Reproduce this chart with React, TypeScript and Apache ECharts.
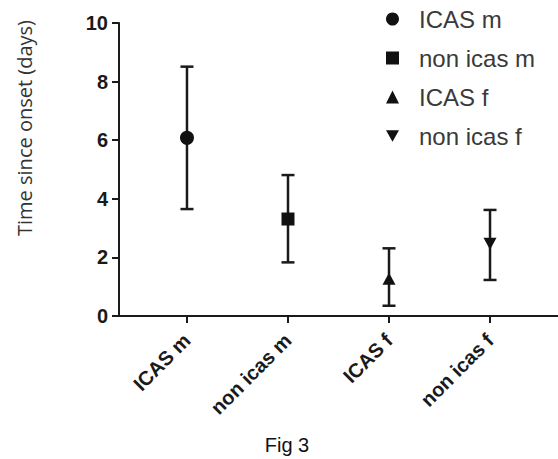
import React, { useEffect, useRef } from "react";
import * as echarts from "echarts";

const categories = ["ICAS m", "non icas m", "ICAS f", "non icas f"];
const means = [6.08, 3.31, 1.27, 2.47];
const lower = [3.65, 1.83, 0.35, 1.23];
const upper = [8.51, 4.81, 2.31, 3.62];
const symbols = ["circle", "rect", "triangle", "path://M0,0L10,0L5,9Z"];
const symbolSizes: any[] = [14, 13, [13, 12], [13, 12]];
const yTicks = [0, 2, 4, 6, 8, 10];
const xPositions = [1, 2, 3, 4];

export default function App() {
  const ref = useRef<HTMLDivElement>(null);
  useEffect(() => {
    const chart = echarts.init(ref.current!, null, { renderer: "svg" });
    const axisColor = "#1a1a1a";
    const errData = xPositions.map((x, i) => [x, lower[i], upper[i]]);
    const scatterSeries = categories.map((name, i) => ({
      type: "scatter",
      name,
      data: [[xPositions[i], means[i]]],
      symbol: symbols[i],
      symbolSize: symbolSizes[i],
      itemStyle: { color: "#111", opacity: 1 },
      z: 5,
    }));
    chart.setOption({
      animation: false,
      grid: {
        left: 119,
        top: 23,
        right: 0,
        bottom: 143,
        containLabel: false,
        outerBoundsMode: "none",
      },
      legend: {
        orient: "vertical",
        left: 381,
        top: 2,
        itemWidth: 13,
        itemHeight: 13,
        itemGap: 15,
        data: categories,
        selectedMode: false,
        textStyle: {
          fontFamily: "Liberation Sans, Arial, sans-serif",
          fontSize: 24,
          color: "#3a3a3a",
          lineHeight: 24,
          padding: [0, 0, 0, 15],
        },
      },
      xAxis: {
        type: "value",
        min: 0.327,
        max: 4.673,
        splitLine: { show: false },
        axisLine: { show: true, lineStyle: { color: axisColor, width: 2 } },
        axisTick: {
          show: true,
          customValues: xPositions,
          length: 7,
          lineStyle: { color: axisColor, width: 2 },
        },
        axisLabel: {
          customValues: xPositions,
          rotate: 45,
          margin: 21,
          fontFamily: "Liberation Sans, Arial, sans-serif",
          fontWeight: "bold",
          fontSize: 20,
          color: "#1a1a1a",
          formatter: (v: number) => categories[Math.round(v) - 1] ?? "",
        },
      },
      yAxis: {
        type: "value",
        min: 0,
        max: 10,
        interval: 2,
        splitLine: { show: false },
        axisLine: { show: true, lineStyle: { color: axisColor, width: 2 } },
        axisTick: { show: true, length: 7, lineStyle: { color: axisColor, width: 2 } },
        axisLabel: {
          margin: 11,
          fontFamily: "Liberation Sans, Arial, sans-serif",
          fontWeight: "bold",
          fontSize: 20,
          color: "#1a1a1a",
          formatter: (v: number) => (yTicks.includes(v) ? String(v) : ""),
        },
      },
      graphic: [
        {
          type: "text",
          x: 24,
          y: 128,
          rotation: Math.PI / 2,
          style: {
            text: "Time since onset (days)",
            fontFamily: "Open Sans, sans-serif",
            fontSize: 20,
            fill: "#333",
            align: "center",
            verticalAlign: "middle",
          },
        },
        {
          type: "text",
          x: 287,
          y: 445,
          style: {
            text: "Fig 3",
            fontFamily: "Liberation Sans, Arial, sans-serif",
            fontSize: 20,
            fill: "#111",
            align: "center",
            verticalAlign: "middle",
          },
        },
      ],
      series: [
        {
          type: "custom",
          name: "error",
          data: errData,
          z: 3,
          renderItem: (params: any, api: any) => {
            const x = api.value(0);
            const pLo = api.coord([x, api.value(1)]);
            const pHi = api.coord([x, api.value(2)]);
            const half = 6.5;
            const style = { stroke: "#1a1a1a", lineWidth: 2.5 };
            return {
              type: "group",
              children: [
                { type: "line", shape: { x1: pHi[0], y1: pHi[1], x2: pLo[0], y2: pLo[1] }, style },
                { type: "line", shape: { x1: pHi[0] - half, y1: pHi[1], x2: pHi[0] + half, y2: pHi[1] }, style },
                { type: "line", shape: { x1: pLo[0] - half, y1: pLo[1], x2: pLo[0] + half, y2: pLo[1] }, style },
              ],
            };
          },
        },
        ...scatterSeries,
      ],
    });
    return () => chart.dispose();
  }, []);
  return (
    <div
      ref={ref}
      style={{ position: "absolute", left: 0, top: 0, width: 558, height: 459, background: "#fff" }}
    />
  );
}
